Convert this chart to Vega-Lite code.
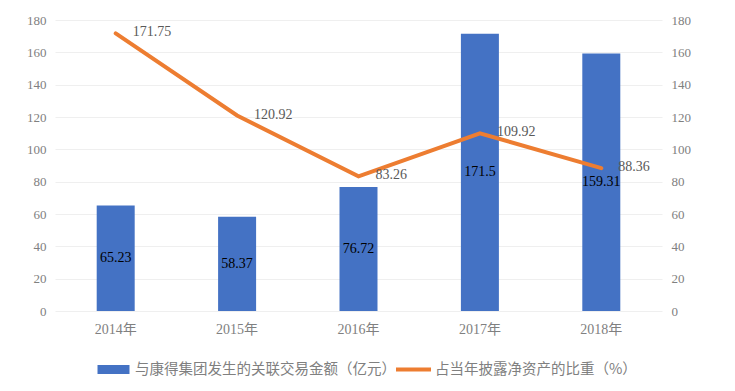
{
  "$schema": "https://vega.github.io/schema/vega-lite/v6.json",
  "autosize": "none",
  "width": 607,
  "height": 291,
  "padding": {"left": 55, "top": 20, "right": 73, "bottom": 80},
  "background": "#ffffff",
  "config": {
    "view": {"stroke": null},
    "axis": {"labelFont": "Liberation Serif, Noto Sans CJK SC", "labelFontSize": 13, "labelColor": "#808080", "ticks": false, "domain": false, "title": null},
    "legend": {"orient": "none", "legendX": 41, "legendY": 332, "direction": "horizontal", "labelFont": "Noto Sans CJK SC", "labelFontSize": 14.5, "labelColor": "#808080", "title": null, "columnPadding": 0, "labelOffset": 4, "symbolSize": 1225, "labelLimit": 400}
  },
  "data": {"values": [
    {"year": "2014年", "amount": 65.23, "pct": 171.75},
    {"year": "2015年", "amount": 58.37, "pct": 120.92},
    {"year": "2016年", "amount": 76.72, "pct": 83.26},
    {"year": "2017年", "amount": 171.5, "pct": 109.92},
    {"year": "2018年", "amount": 159.31, "pct": 88.36}
  ]},
  "encoding": {
    "x": {"field": "year", "type": "nominal", "sort": null, "scale": {"paddingInner": 0.687, "paddingOuter": 0.3435}, "axis": {"labelAngle": 0, "labelPadding": 11, "grid": false, "labelFontSize": 14}}
  },
  "layer": [
    {
      "mark": {"type": "bar"},
      "encoding": {
        "y": {"field": "amount", "type": "quantitative", "scale": {"domain": [0, 180], "nice": false}, "axis": {"orient": "left", "values": [0, 20, 40, 60, 80, 100, 120, 140, 160, 180], "grid": true, "gridColor": "#efefef", "labelPadding": 9}},
        "color": {"datum": "与康得集团发生的关联交易金额（亿元）", "type": "nominal", "scale": {"domain": ["与康得集团发生的关联交易金额（亿元）", "占当年披露净资产的比重（%）"], "range": ["#4472C4", "#ED7D31"]},
          "legend": {"encode": {"symbols": {"update": {"shape": {"signal": "datum.value === '与康得集团发生的关联交易金额（亿元）' ? 'M-0.914,-0.257H0.914V0.257H-0.914Z' : 'M-1,-0.114H1V0.114H-1Z'"}, "strokeWidth": {"value": 0}, "fillOpacity": {"value": 1}}}}}}
      }
    },
    {
      "mark": {"type": "text", "font": "Liberation Serif", "fontSize": 14, "color": "#000000", "baseline": "middle"},
      "encoding": {
        "y": {"field": "amount", "type": "quantitative", "scale": {"domain": [0, 360], "nice": false}, "axis": null},
        "text": {"field": "amount", "type": "quantitative"}
      }
    },
    {
      "encoding": {
        "y": {"field": "pct", "type": "quantitative", "scale": {"domain": [0, 180], "nice": false}, "axis": {"orient": "right", "values": [0, 20, 40, 60, 80, 100, 120, 140, 160, 180], "grid": false, "labelPadding": 9}}
      },
      "layer": [
        {
          "mark": {"type": "line", "strokeWidth": 4, "strokeCap": "round"},
          "encoding": {
            "color": {"datum": "占当年披露净资产的比重（%）", "type": "nominal"}
          }
        },
        {
          "mark": {"type": "text", "font": "Liberation Serif", "fontSize": 14, "color": "#595959", "align": "left", "baseline": "middle", "dx": 17, "dy": -1},
          "encoding": {
            "text": {"field": "pct", "type": "quantitative"}
          }
        }
      ]
    }
  ],
  "resolve": {"scale": {"y": "independent"}}
}
